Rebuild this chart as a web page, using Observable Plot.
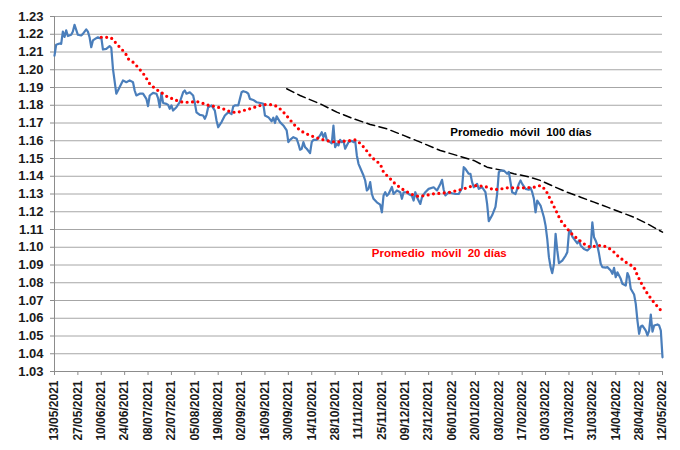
<!DOCTYPE html>
<html>
<head>
<meta charset="utf-8">
<script src="https://cdn.jsdelivr.net/npm/d3@7"></script>
<script src="https://cdn.jsdelivr.net/npm/@observablehq/plot@0.6"></script>
<style>
  html, body { margin: 0; padding: 0; background: #fff; }
  #chart { width: 680px; height: 450px; }
</style>
</head>
<body>
<div id="chart"></div>
<script>
// EUR/USD daily
const eurusd = [
["2021-05-13",1.2080],["2021-05-14",1.2141],["2021-05-16",1.2148],["2021-05-17",1.2146],["2021-05-18",1.2215],
["2021-05-19",1.2185],["2021-05-20",1.2222],["2021-05-21",1.2190],["2021-05-23",1.2197],["2021-05-24",1.2215],
["2021-05-25",1.2253],["2021-05-27",1.2197],["2021-05-29",1.2193],["2021-05-30",1.2202],["2021-06-01",1.2227],
["2021-06-02",1.2215],["2021-06-03",1.2183],["2021-06-04",1.2127],["2021-06-05",1.2165],["2021-06-07",1.2178],
["2021-06-08",1.2183],["2021-06-09",1.2178],["2021-06-10",1.2183],["2021-06-11",1.2114],["2021-06-13",1.2118],
["2021-06-15",1.2133],["2021-06-16",1.2124],["2021-06-17",1.2005],["2021-06-19",1.1865],["2021-06-20",1.1883],
["2021-06-22",1.1921],["2021-06-23",1.1940],["2021-06-25",1.1930],["2021-06-27",1.1940],["2021-06-29",1.1930],
["2021-06-30",1.1883],["2021-07-01",1.1855],["2021-07-03",1.1865],["2021-07-05",1.1865],["2021-07-07",1.1836],
["2021-07-08",1.1795],["2021-07-09",1.1855],["2021-07-11",1.1870],["2021-07-13",1.1865],["2021-07-14",1.1840],
["2021-07-15",1.1789],["2021-07-16",1.1870],["2021-07-17",1.1813],["2021-07-19",1.1808],["2021-07-20",1.1802],
["2021-07-21",1.1780],["2021-07-22",1.1799],["2021-07-23",1.1770],["2021-07-25",1.1789],["2021-07-27",1.1817],
["2021-07-29",1.1873],["2021-07-30",1.1883],["2021-07-31",1.1865],["2021-08-02",1.1873],["2021-08-04",1.1855],
["2021-08-05",1.1813],["2021-08-06",1.1760],["2021-08-08",1.1746],["2021-08-10",1.1742],["2021-08-11",1.1724],
["2021-08-12",1.1746],["2021-08-13",1.1789],["2021-08-15",1.1799],["2021-08-17",1.1770],["2021-08-18",1.1714],
["2021-08-19",1.1676],["2021-08-21",1.1705],["2021-08-23",1.1742],["2021-08-25",1.1760],["2021-08-27",1.1750],
["2021-08-28",1.1793],["2021-08-29",1.1799],["2021-08-31",1.1799],["2021-09-01",1.1836],["2021-09-02",1.1873],
["2021-09-03",1.1879],["2021-09-05",1.1873],["2021-09-06",1.1865],["2021-09-07",1.1836],["2021-09-09",1.1830],
["2021-09-11",1.1817],["2021-09-14",1.1811],["2021-09-15",1.1808],["2021-09-16",1.1742],["2021-09-18",1.1733],
["2021-09-20",1.1710],["2021-09-21",1.1730],["2021-09-22",1.1700],["2021-09-23",1.1738],["2021-09-25",1.1705],
["2021-09-27",1.1686],["2021-09-29",1.1658],["2021-09-30",1.1592],["2021-10-01",1.1605],["2021-10-03",1.1620],
["2021-10-05",1.1611],["2021-10-06",1.1583],["2021-10-07",1.1549],["2021-10-08",1.1555],["2021-10-09",1.1592],
["2021-10-10",1.1564],["2021-10-11",1.1555],["2021-10-13",1.1530],["2021-10-14",1.1592],["2021-10-15",1.1605],
["2021-10-17",1.1605],["2021-10-19",1.1630],["2021-10-20",1.1648],["2021-10-21",1.1620],["2021-10-22",1.1643],
["2021-10-23",1.1605],["2021-10-25",1.1592],["2021-10-26",1.1586],["2021-10-27",1.1686],["2021-10-28",1.1564],
["2021-10-29",1.1583],["2021-10-30",1.1574],["2021-10-31",1.1605],["2021-11-01",1.1592],["2021-11-02",1.1600],
["2021-11-03",1.1555],["2021-11-05",1.1592],["2021-11-07",1.1600],["2021-11-08",1.1592],["2021-11-09",1.1600],
["2021-11-10",1.1517],["2021-11-11",1.1470],["2021-11-12",1.1448],["2021-11-14",1.1404],["2021-11-15",1.1376],
["2021-11-16",1.1320],["2021-11-17",1.1330],["2021-11-18",1.1367],["2021-11-19",1.1300],["2021-11-20",1.1273],
["2021-11-22",1.1253],["2021-11-24",1.1240],["2021-11-25",1.1197],["2021-11-26",1.1292],["2021-11-27",1.1310],
["2021-11-28",1.1290],["2021-11-29",1.1300],["2021-11-30",1.1320],["2021-12-01",1.1340],["2021-12-02",1.1300],
["2021-12-04",1.1320],["2021-12-06",1.1310],["2021-12-07",1.1273],["2021-12-08",1.1310],["2021-12-10",1.1310],
["2021-12-11",1.1300],["2021-12-13",1.1290],["2021-12-14",1.1263],["2021-12-15",1.1310],["2021-12-16",1.1282],
["2021-12-18",1.1244],["2021-12-19",1.1282],["2021-12-21",1.1310],["2021-12-23",1.1329],["2021-12-26",1.1338],
["2021-12-28",1.1320],["2021-12-30",1.1357],["2021-12-31",1.1380],["2022-01-01",1.1324],["2022-01-02",1.1292],
["2022-01-04",1.1310],["2022-01-06",1.1304],["2022-01-08",1.1300],["2022-01-10",1.1300],["2022-01-12",1.1334],
["2022-01-13",1.1451],["2022-01-14",1.1442],["2022-01-16",1.1414],["2022-01-17",1.1414],["2022-01-18",1.1367],
["2022-01-19",1.1338],["2022-01-21",1.1357],["2022-01-22",1.1329],["2022-01-24",1.1338],["2022-01-26",1.1310],
["2022-01-27",1.1244],["2022-01-28",1.1147],["2022-01-30",1.1180],["2022-02-01",1.1228],["2022-02-02",1.1300],
["2022-02-03",1.1422],["2022-02-04",1.1432],["2022-02-06",1.1432],["2022-02-08",1.1414],["2022-02-09",1.1424],
["2022-02-10",1.1367],["2022-02-11",1.1310],["2022-02-13",1.1300],["2022-02-15",1.1357],["2022-02-16",1.1376],
["2022-02-17",1.1357],["2022-02-19",1.1329],["2022-02-21",1.1324],["2022-02-22",1.1335],["2022-02-23",1.1310],
["2022-02-24",1.1273],["2022-02-25",1.1197],["2022-02-26",1.1263],["2022-02-28",1.1235],["2022-03-02",1.1169],
["2022-03-03",1.1122],["2022-03-04",1.1047],["2022-03-05",1.0944],["2022-03-06",1.0888],["2022-03-07",1.0854],
["2022-03-08",1.0906],["2022-03-09",1.1076],["2022-03-10",1.0982],["2022-03-11",1.0910],["2022-03-13",1.0925],
["2022-03-15",1.0953],["2022-03-16",1.0972],["2022-03-17",1.1085],["2022-03-18",1.1094],["2022-03-19",1.1060],
["2022-03-20",1.1047],["2022-03-22",1.1022],["2022-03-23",1.1038],["2022-03-24",1.1010],["2022-03-26",1.0990],
["2022-03-28",1.0982],["2022-03-30",1.1000],["2022-03-31",1.1140],["2022-04-01",1.1056],["2022-04-02",1.1037],
["2022-04-03",1.1010],["2022-04-04",1.0963],["2022-04-05",1.0907],["2022-04-06",1.0888],["2022-04-08",1.0885],
["2022-04-09",1.0888],["2022-04-11",1.0869],["2022-04-12",1.0850],["2022-04-13",1.0884],["2022-04-14",1.0831],
["2022-04-15",1.0859],["2022-04-17",1.0822],["2022-04-18",1.0794],["2022-04-20",1.0784],["2022-04-21",1.0855],
["2022-04-22",1.0833],["2022-04-23",1.0766],["2022-04-25",1.0734],["2022-04-26",1.0681],["2022-04-27",1.0587],
["2022-04-28",1.0512],["2022-04-29",1.0554],["2022-04-30",1.0559],["2022-05-02",1.0530],["2022-05-03",1.0503],
["2022-05-04",1.0530],["2022-05-05",1.0621],["2022-05-06",1.0524],["2022-05-07",1.0559],["2022-05-09",1.0565],
["2022-05-10",1.0559],["2022-05-11",1.0530],["2022-05-12",1.0380]
];

// 20-day moving average
const ma20 = [
["2021-06-10",1.2183],["2021-06-13",1.2183],["2021-06-16",1.2180],["2021-06-17",1.2165],["2021-06-19",1.2150],
["2021-06-21",1.2127],["2021-06-23",1.2108],["2021-06-25",1.2084],["2021-06-26",1.2062],["2021-06-29",1.2043],
["2021-07-02",1.2014],["2021-07-06",1.1968],["2021-07-09",1.1921],["2021-07-12",1.1896],["2021-07-14",1.1883],
["2021-07-17",1.1865],["2021-07-20",1.1845],["2021-07-23",1.1836],["2021-07-26",1.1823],["2021-07-29",1.1817],
["2021-08-02",1.1817],["2021-08-06",1.1821],["2021-08-09",1.1814],["2021-08-12",1.1802],["2021-08-16",1.1795],
["2021-08-20",1.1786],["2021-08-22",1.1780],["2021-08-26",1.1765],["2021-08-30",1.1758],["2021-09-03",1.1770],
["2021-09-07",1.1780],["2021-09-11",1.1793],["2021-09-15",1.1804],["2021-09-19",1.1804],["2021-09-22",1.1799],
["2021-09-25",1.1780],["2021-09-28",1.1752],["2021-10-01",1.1718],["2021-10-04",1.1686],["2021-10-07",1.1658],
["2021-10-10",1.1643],["2021-10-13",1.1630],["2021-10-17",1.1617],["2021-10-21",1.1605],["2021-10-25",1.1597],
["2021-10-29",1.1592],["2021-11-02",1.1597],["2021-11-06",1.1601],["2021-11-09",1.1605],["2021-11-12",1.1586],
["2021-11-15",1.1555],["2021-11-18",1.1517],["2021-11-21",1.1489],["2021-11-24",1.1470],["2021-11-26",1.1423],
["2021-11-30",1.1386],["2021-12-03",1.1357],["2021-12-07",1.1329],["2021-12-12",1.1301],["2021-12-17",1.1286],
["2021-12-21",1.1292],["2021-12-26",1.1301],["2021-12-31",1.1305],["2022-01-05",1.1310],["2022-01-09",1.1320],
["2022-01-13",1.1329],["2022-01-17",1.1342],["2022-01-21",1.1348],["2022-01-26",1.1342],["2022-01-31",1.1324],
["2022-02-04",1.1328],["2022-02-08",1.1335],["2022-02-13",1.1335],["2022-02-18",1.1335],["2022-02-24",1.1338],
["2022-02-28",1.1348],["2022-03-03",1.1324],["2022-03-06",1.1267],["2022-03-09",1.1211],["2022-03-12",1.1151],
["2022-03-16",1.1104],["2022-03-19",1.1072],["2022-03-22",1.1048],["2022-03-26",1.1019],["2022-03-30",1.1000],
["2022-04-03",1.1010],["2022-04-06",1.1010],["2022-04-09",1.1000],["2022-04-12",1.0982],["2022-04-15",1.0953],
["2022-04-20",1.0916],["2022-04-25",1.0888],["2022-04-27",1.0841],["2022-04-30",1.0785],["2022-05-03",1.0738],
["2022-05-06",1.0700],["2022-05-09",1.0666],["2022-05-12",1.0634]
];

// 100-day moving average
const ma100 = [
["2021-09-29",1.1893],["2021-10-07",1.1855],["2021-10-19",1.1808],["2021-10-29",1.1761],["2021-11-08",1.1724],
["2021-11-18",1.1692],["2021-11-28",1.1667],["2021-12-08",1.1630],["2021-12-18",1.1592],["2021-12-30",1.1545],
["2022-01-09",1.1517],["2022-01-19",1.1489],["2022-01-27",1.1451],["2022-02-04",1.1435],["2022-02-12",1.1414],
["2022-02-20",1.1399],["2022-02-28",1.1376],["2022-03-08",1.1342],["2022-03-16",1.1310],["2022-03-24",1.1282],
["2022-04-01",1.1254],["2022-04-09",1.1226],["2022-04-17",1.1197],["2022-04-25",1.1169],["2022-05-03",1.1132],
["2022-05-12",1.1085]
];

const xTickDates = [
"2021-05-13","2021-05-27","2021-06-10","2021-06-24","2021-07-08","2021-07-22","2021-08-05","2021-08-19",
"2021-09-02","2021-09-16","2021-09-30","2021-10-14","2021-10-28","2021-11-11","2021-11-25","2021-12-09",
"2021-12-23","2022-01-06","2022-01-20","2022-02-03","2022-02-17","2022-03-03","2022-03-17","2022-03-31",
"2022-04-14","2022-04-28","2022-05-12"
];
const yTicks = [1.03,1.04,1.05,1.06,1.07,1.08,1.09,1.10,1.11,1.12,1.13,1.14,1.15,1.16,1.17,1.18,1.19,1.20,1.21,1.22,1.23];

const labels = [
  {text: "Promedio\u00a0 móvil\u00a0 100 días", date: "2022-01-05", value: 1.1648, color: "#000000"},
  {text: "Promedio\u00a0 móvil\u00a0 20 días", date: "2021-11-19", value: 1.0967, color: "#ff0000"}
];

const toPt = (arr) => arr.map(([d, v]) => ({date: new Date(d), value: v}));
const xTicks = xTickDates.map(d => new Date(d));
const fmt = d3.utcFormat("%d/%m/%Y");

const chart = Plot.plot({
  width: 680,
  height: 450,
  marginLeft: 54,
  marginRight: 18,
  marginTop: 16,
  marginBottom: 79,
  style: {fontFamily: "Arial, 'Liberation Sans', sans-serif", background: "#ffffff", color: "#1a1a1a"},
  x: {type: "utc", domain: [new Date("2021-05-13"), new Date("2022-05-12")]},
  y: {domain: [1.03, 1.23]},
  marks: [
    Plot.gridY(yTicks, {stroke: "#a6a6a6", strokeOpacity: 1, strokeWidth: 1}),
    Plot.ruleX([new Date("2021-05-13")], {stroke: "#8c8c8c", strokeWidth: 1}),
    Plot.ruleY([1.03], {stroke: "#8c8c8c", strokeWidth: 1}),
    Plot.axisY(yTicks, {tickFormat: d3.format(".2f"), tickSize: 4, tickPadding: 7, stroke: "#8c8c8c", fill: "#1a1a1a", fontSize: 13, fontWeight: "bold", label: null}),
    Plot.axisX(xTicks, {tickFormat: fmt, tickRotate: -90, tickSize: 4, tickPadding: 5, stroke: "#8c8c8c", fill: "#1a1a1a", fontSize: 12, fontWeight: "bold", label: null}),
    Plot.line(toPt(ma100), {x: "date", y: "value", stroke: "#000000", strokeWidth: 1.5, strokeDasharray: "8,4.5"}),
    Plot.line(toPt(eurusd), {x: "date", y: "value", stroke: "#4a7ebb", strokeWidth: 2.2, strokeLinejoin: "round"}),
    Plot.line(toPt(ma20), {x: "date", y: "value", stroke: "#ff0000", strokeWidth: 3.2, strokeDasharray: "0,5.4", strokeLinecap: "round"}),
    Plot.text(labels, {x: d => new Date(d.date), y: "value", text: "text", fill: "color", textAnchor: "start", fontSize: 11.5, fontWeight: "bold"})
  ]
});
document.getElementById("chart").appendChild(chart);
</script>
</body>
</html>
